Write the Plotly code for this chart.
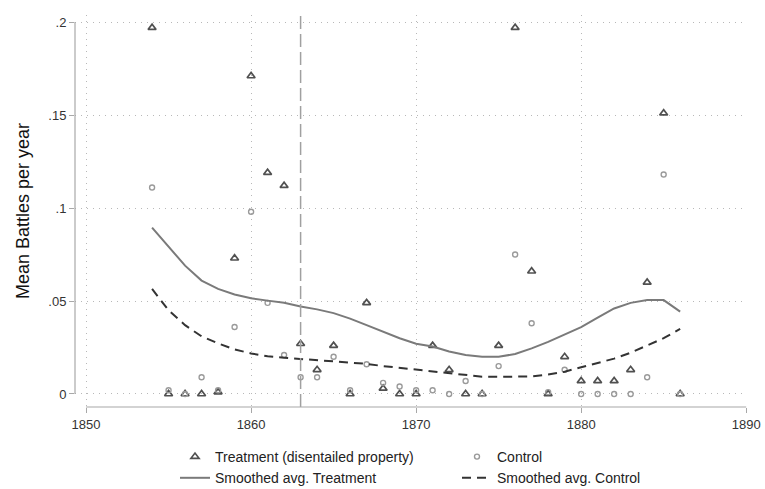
import plotly.graph_objects as go

years = list(range(1854, 1887))

treatment = [0.197, 0.000, 0.000, 0.000, 0.001, 0.073, 0.171, 0.119, 0.112, 0.027,
             0.013, 0.026, 0.000, 0.049, 0.003, 0.000, 0.000, 0.026, 0.013, 0.000,
             0.000, 0.026, 0.197, 0.066, 0.000, 0.020, 0.007, 0.007, 0.007, 0.013,
             0.060, 0.151, 0.000]

control = [0.111, 0.002, 0.000, 0.009, 0.002, 0.036, 0.098, 0.049, 0.021, 0.009,
           0.009, 0.020, 0.002, 0.016, 0.006, 0.004, 0.002, 0.002, 0.000, 0.007,
           0.000, 0.015, 0.075, 0.038, 0.001, 0.013, 0.000, 0.000, 0.000, 0.000,
           0.009, 0.118, 0.000]

smooth_treatment = [0.0895, 0.079, 0.069, 0.061, 0.0565, 0.0535, 0.0515, 0.0502, 0.049, 0.047,
                    0.0455, 0.0435, 0.0405, 0.037, 0.0335, 0.030, 0.027, 0.0255, 0.0228, 0.021,
                    0.020, 0.020, 0.0215, 0.0245, 0.028, 0.032, 0.036, 0.041, 0.046, 0.049,
                    0.0505, 0.0505, 0.0443]

smooth_control = [0.0565, 0.045, 0.037, 0.031, 0.0272, 0.024, 0.0218, 0.0203, 0.0195, 0.0188,
                  0.0183, 0.0178, 0.017, 0.0162, 0.015, 0.014, 0.013, 0.0122, 0.011, 0.0099,
                  0.0093, 0.0092, 0.0092, 0.0095, 0.0105, 0.012, 0.0144, 0.0167, 0.019, 0.0222,
                  0.026, 0.030, 0.035]

reform_year = 1863
x_ticks = [1850, 1860, 1870, 1880, 1890]
y_ticks = [0, 0.05, 0.1, 0.15, 0.2]
y_ticktext = ["0", ".05", ".1", ".15", ".2"]

FONT = "Liberation Sans, Arial, sans-serif"

fig = go.Figure()
fig.add_trace(go.Scatter(
    x=years, y=treatment, mode="markers", name="Treatment (disentailed property)",
    marker=dict(symbol="triangle-up-open", size=7, color="#505050",
                line=dict(width=1.7, color="#505050"))))
fig.add_trace(go.Scatter(
    x=years, y=control, mode="markers", name="Control",
    marker=dict(symbol="circle-open", size=5, color="#9a9a9a",
                line=dict(width=1.4, color="#9a9a9a"))))
fig.add_trace(go.Scatter(
    x=years, y=smooth_treatment, mode="lines", name="Smoothed avg. Treatment",
    line=dict(color="#7a7a7a", width=2)))
fig.add_trace(go.Scatter(
    x=years, y=smooth_control, mode="lines", name="Smoothed avg. Control",
    line=dict(color="#333333", width=2, dash="9px,6px")))

# reform year marker line
fig.add_shape(type="line", xref="x", yref="paper", x0=reform_year, x1=reform_year,
              y0=0, y1=1, line=dict(color="#a0a0a0", width=1.5, dash="13px,5px"))
# Stata-style axis lines
fig.add_shape(type="line", xref="paper", yref="y", x0=0, x1=0, y0=0, y1=0.2,
              line=dict(color="#a8a8a8", width=1.2))
fig.add_shape(type="line", xref="x", yref="paper", x0=1850, x1=1890, y0=0, y1=0,
              line=dict(color="#a8a8a8", width=1.2))

fig.update_layout(
    width=765, height=489,
    margin=dict(l=75, r=18, t=15, b=82, autoexpand=False),
    paper_bgcolor="white", plot_bgcolor="white",
    font=dict(family=FONT, color="#222222"),
    showlegend=True,
    legend=dict(orientation="h", xref="container", yref="container",
                x=175 / 765, xanchor="left", y=1 - 441 / 489, yanchor="top",
                entrywidth=237, font=dict(size=14, color="#222222"),
                bgcolor="rgba(0,0,0,0)", traceorder="normal"),
    xaxis=dict(range=[1849.33, 1890.05], tickvals=x_ticks, showline=False,
               zeroline=False, showgrid=True, gridcolor="#b8b8b8", griddash="1px,5px",
               gridwidth=1, ticks="outside", ticklen=5, tickcolor="#a8a8a8",
               tickfont=dict(size=13, color="#333333"), automargin=False),
    yaxis=dict(range=[-0.007, 0.2038], tickvals=y_ticks, ticktext=y_ticktext,
               showline=False, zeroline=False, showgrid=True, gridcolor="#b8b8b8",
               griddash="1px,5px", gridwidth=1, ticks="outside", ticklen=5,
               tickcolor="#a8a8a8", tickfont=dict(size=13, color="#333333"),
               automargin=False,
               title=dict(text="Mean Battles per year", font=dict(size=18, color="#111111"),
                          standoff=14)),
)

fig.write_html("out.html")
